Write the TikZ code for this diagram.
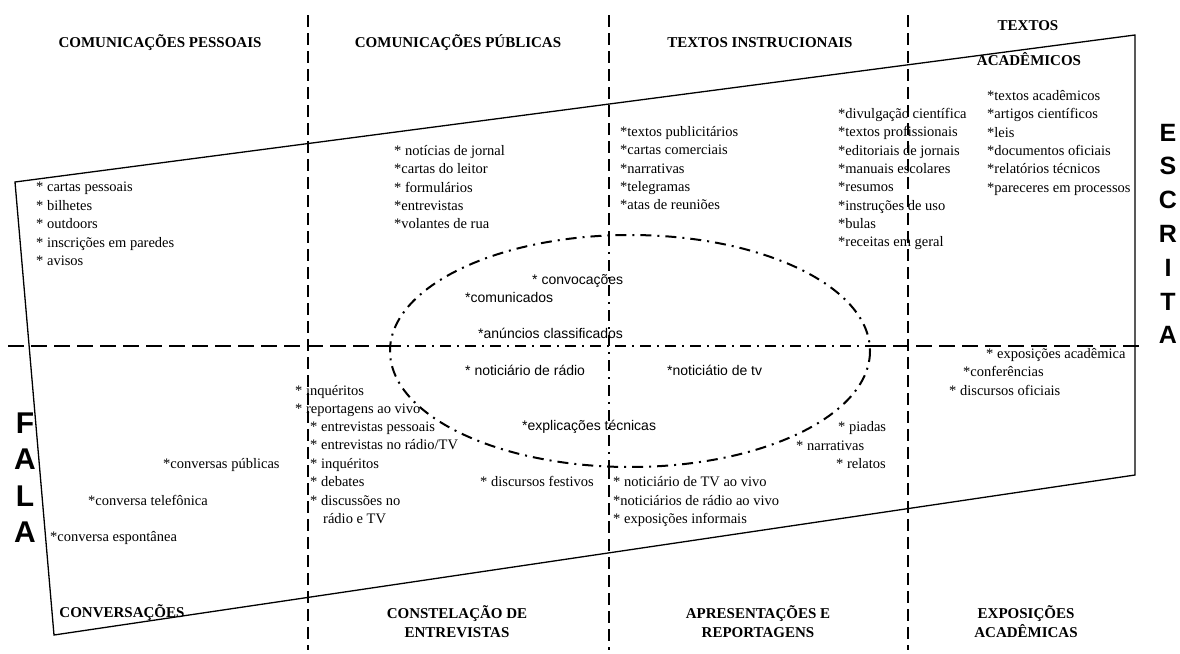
\documentclass[tikz,border=0pt]{standalone}
\usepackage{fontspec}
\setmainfont{Liberation Serif}
\newfontfamily\arialfont{Liberation Sans}
\begin{document}
\begin{tikzpicture}[x=1pt,y=-1pt,
    item/.style={anchor=west,inner sep=0pt,text height=10pt,text depth=3pt,
      font=\fontsize{14.5}{16}\selectfont},
    sitem/.style={item,font=\arialfont\fontsize{14}{16}\selectfont},
    titulo/.style={inner sep=0pt,text height=10pt,text depth=0pt,
      font=\bfseries\fontsize{15}{17}\selectfont},
    letra/.style={inner sep=0pt,text height=18pt,text depth=0pt,
      font=\arialfont\bfseries\fontsize{25}{25}\selectfont},
    grande/.style={letra,text height=21pt,font=\arialfont\bfseries\fontsize{30}{30}\selectfont},
    tracejado/.style={line width=2.3pt,dash pattern=on 12pt off 6pt},
    traco/.style={line width=2.3pt,dash pattern=on 16pt off 7pt},
    pontotraco/.style={line width=2pt,dash pattern=on 11pt off 6pt on 2pt off 6pt},
    moldura/.style={line width=1.3pt}]
  \useasboundingbox (0,0) rectangle (1180,653);
  %% frame
  \coordinate (tl) at (15,182);
  \coordinate (tr) at (1135,35);
  \coordinate (br) at (1135,475);
  \coordinate (bl) at (54,635);
  \draw[moldura] (tl) -- (tr) -- (br) -- (bl) -- cycle;
  %% dashed axes
  \draw[tracejado] (308,15) -- (308,650);
  \draw[tracejado] (908,15) -- (908,650);
  \draw[tracejado] (609,15) -- (609,235);
  \draw[pontotraco] (609,235) -- (609,467);
  \draw[tracejado] (609,467) -- (609,650);
  \draw[traco] (8,346) -- (390,346);
  \draw[pontotraco] (390,346) -- (870,346);
  \draw[traco] (870,346) -- (1143,346);
  %% ellipse
  \draw[pontotraco] (630,351) ellipse [x radius=240, y radius=116];
  %% titles
  \node[titulo] (t1) at (160,42) {COMUNICAÇÕES PESSOAIS};
  \node[titulo] (t2) at (458,42) {COMUNICAÇÕES PÚBLICAS};
  \node[titulo] (t3) at (760,42) {TEXTOS INSTRUCIONAIS};
  \node[titulo] (t4a) at (1028,25) {TEXTOS};
  \node[titulo] (t4b) at (1029,60) {ACADÊMICOS};
  \node[titulo] (b1) at (122,612) {CONVERSAÇÕES};
  \node[titulo] (b2a) at (457,613) {CONSTELAÇÃO DE};
  \node[titulo] (b2b) at (457,632) {ENTREVISTAS};
  \node[titulo] (b3a) at (758,613) {APRESENTAÇÕES E};
  \node[titulo] (b3b) at (758,632) {REPORTAGENS};
  \node[titulo] (b4a) at (1026,613) {EXPOSIÇÕES};
  \node[titulo] (b4b) at (1026,632) {ACADÊMICAS};
  %% ESCRITA / FALA
  \foreach \l [count=\i] in {E,S,C,R,I,T,A}
    \node[letra] (escrita\i) at (1168,132+33.8*\i-33.8) {\l};
  \foreach \l [count=\i] in {F,A,L,A}
    \node[grande] (fala\i) at (25,423+36.3*\i-36.3) {\l};
  %% written genres
  \foreach \t [count=\i] in {* cartas pessoais,* bilhetes,* outdoors,* inscrições em paredes,* avisos}
    \node[item] (pes\i) at (36,188+18.5*\i-18.5) {\t};
  \foreach \t [count=\i] in {* notícias de jornal,*cartas do leitor,* formulários,*entrevistas,*volantes de rua}
    \node[item] (pub\i) at (394,152+18.3*\i-18.3) {\t};
  \foreach \t [count=\i] in {*textos publicitários,*cartas comerciais,*narrativas,*telegramas,*atas de reuniões}
    \node[item] (ins\i) at (620,133+18.3*\i-18.3) {\t};
  \foreach \t [count=\i] in {*divulgação científica,*textos profissionais,*editoriais de jornais,*manuais escolares,*resumos,*instruções de uso,*bulas,*receitas em geral}
    \node[item] (div\i) at (838,115+18.3*\i-18.3) {\t};
  \foreach \t [count=\i] in {*textos acadêmicos,*artigos científicos,*leis,*documentos oficiais,*relatórios técnicos,*pareceres em processos}
    \node[item] (aca\i) at (987,97+18.3*\i-18.3) {\t};
  %% ellipse contents
  \node[sitem] (e1) at (532,281) {* convocações};
  \node[sitem] (e2) at (465,299) {*comunicados};
  \node[sitem] (e3) at (478,335) {*anúncios classificados};
  \node[sitem] (e4) at (465,372) {* noticiário de rádio};
  \node[sitem] (e5) at (667,372) {*noticiátio de tv};
  \node[sitem] (e6) at (522,427) {*explicações técnicas};
  %% spoken genres
  \node[item] (f1) at (163,465) {*conversas públicas};
  \node[item] (f2) at (88,502) {*conversa telefônica};
  \node[item] (f3) at (50,538) {*conversa espontânea};
  \node[item] (r1) at (295,392) {* inquéritos};
  \node[item] (r2) at (295,410) {* reportagens ao vivo};
  \foreach \t [count=\i] in {* entrevistas pessoais,* entrevistas no rádio/TV,* inquéritos,* debates,* discussões no}
    \node[item] (ent\i) at (310,428+18.4*\i-18.4) {\t};
  \node[item] (ent6) at (323,520) {rádio e TV};
  \node[item] (d1) at (480,483) {* discursos festivos};
  \node[item] (a1) at (613,483) {* noticiário de TV ao vivo};
  \node[item] (a2) at (613,502) {*noticiários de rádio ao vivo};
  \node[item] (a3) at (613,520) {* exposições informais};
  \node[item] (n1) at (838,428) {* piadas};
  \node[item] (n2) at (796,447) {* narrativas};
  \node[item] (n3) at (836,465) {* relatos};
  \node[item] (x1) at (986,355) {* exposições acadêmica};
  \node[item] (x2) at (963,373) {*conferências};
  \node[item] (x3) at (949,392) {* discursos oficiais};
\end{tikzpicture}
\end{document}
